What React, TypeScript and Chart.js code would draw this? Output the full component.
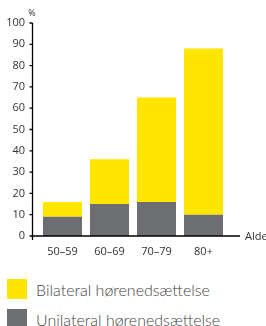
import React, { useEffect, useRef } from "react";
import { Chart, registerables } from "chart.js";

Chart.register(...registerables);

const categories = ["50–59", "60–69", "70–79", "80+"];
const unilateral = [9, 15, 16, 10];
const bilateral = [7, 21, 49, 78];
const yTicks = [0, 10, 20, 30, 40, 50, 60, 70, 80, 90, 100];
const seriesNames = ["Bilateral hørenedsættelse", "Unilateral hørenedsættelse"];
const YELLOW = "#FFE500";
const GRAY = "#6D6E71";

const axisPlugin = {
  id: "customAxes",
  afterDraw(chart: any) {
    const ctx = chart.ctx;
    const y = chart.scales.y;
    const ax = 32.5;
    const top = y.getPixelForValue(100);
    const bottom = y.getPixelForValue(0);
    ctx.save();
    ctx.strokeStyle = "#000";
    ctx.lineWidth = 1.3;
    ctx.beginPath();
    ctx.moveTo(ax, top);
    ctx.lineTo(ax, bottom + 4);
    ctx.moveTo(ax, bottom);
    ctx.lineTo(240, bottom);
    yTicks.forEach((v) => {
      const py = y.getPixelForValue(v);
      ctx.moveTo(ax - 3, py);
      ctx.lineTo(ax, py);
    });
    ctx.stroke();
    ctx.fillStyle = "#333";
    ctx.font = "9px 'Open Sans'";
    ctx.textAlign = "center";
    ctx.textBaseline = "middle";
    ctx.fillText("%", 32, 13);
    ctx.font = "11px 'Open Sans'";
    ctx.textAlign = "left";
    ctx.fillText("Alder", 245, bottom + 1);
    ctx.restore();
  },
};

export default function App() {
  const ref = useRef<HTMLCanvasElement>(null);
  useEffect(() => {
    const chart = new Chart(ref.current!, {
      type: "bar",
      data: {
        labels: categories,
        datasets: [
          { label: seriesNames[1], data: unilateral, backgroundColor: GRAY, barPercentage: 0.83, categoryPercentage: 1 },
          { label: seriesNames[0], data: bilateral, backgroundColor: YELLOW, barPercentage: 0.83, categoryPercentage: 1 },
        ],
      },
      options: {
        animation: false,
        responsive: false,
        layout: { padding: { top: 23, right: 39, left: 0, bottom: 0 } },
        plugins: { legend: { display: false }, tooltip: { enabled: false } },
        scales: {
          x: {
            stacked: true,
            grid: { display: false, drawTicks: false },
            border: { display: false },
            ticks: { color: "#333", font: { family: "'Open Sans'", size: 11 }, padding: 9 },
            afterFit: (s: any) => { s.height = 34; },
          },
          y: {
            stacked: true,
            min: 0,
            max: 100,
            grid: { display: false, drawTicks: false },
            border: { display: false },
            ticks: { stepSize: 10, color: "#333", font: { family: "'Open Sans'", size: 11 }, padding: 14 },
            afterFit: (s: any) => { s.width = 39; },
          },
        },
      },
      plugins: [axisPlugin],
    });
    return () => chart.destroy();
  }, []);

  const legendRow = (color: string, text: string, top: number) => (
    <div style={{ position: "absolute", left: 7, top, display: "flex", alignItems: "center" }}>
      <div style={{ width: 20, height: 20, background: color }} />
      <span style={{ marginLeft: 9, fontFamily: "Lato", fontWeight: 300, fontSize: 16, color: "#444", whiteSpace: "nowrap" }}>{text}</span>
    </div>
  );

  return (
    <div style={{ position: "fixed", left: 0, top: 0, width: 266, height: 326, background: "#fff", overflow: "hidden" }}>
      <canvas ref={ref} width={266} height={270} style={{ display: "block" }} />
      {legendRow(YELLOW, seriesNames[0], 279)}
      {legendRow(GRAY, seriesNames[1], 309)}
    </div>
  );
}
